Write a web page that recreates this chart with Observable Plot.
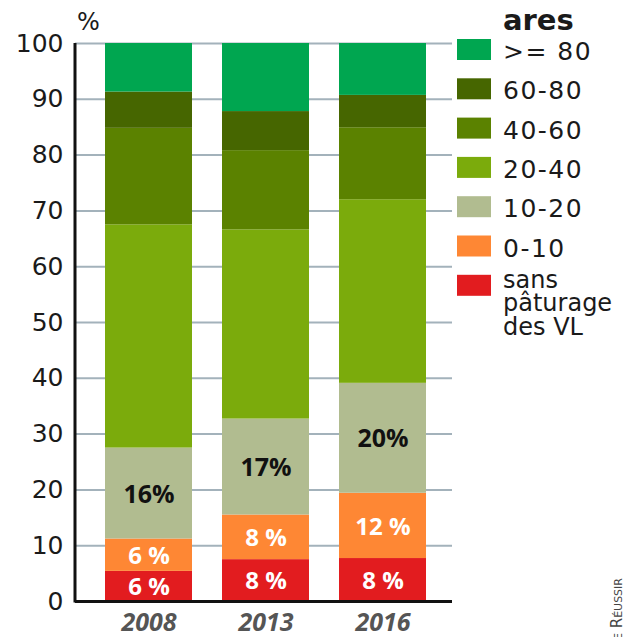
<!DOCTYPE html>
<html>
<head>
<meta charset="utf-8">
<script src="https://cdn.jsdelivr.net/npm/d3@7"></script>
<script src="https://cdn.jsdelivr.net/npm/@observablehq/plot@0.6"></script>
<style>
  html, body { margin: 0; padding: 0; background: #fff; }
  #wrap { position: relative; width: 623px; height: 637px; overflow: hidden; background: #fff; }
  #wrap svg { display: block; }
  #overlay { position: absolute; left: 0; top: 0; pointer-events: none; }
  #chart g[aria-label="x-axis tick label"] text { font: italic bold 25px "Open Sans", sans-serif; fill: #555; }
  #chart g[aria-label="y-axis tick label"] text { font: 25px "DejaVu Sans", sans-serif; fill: #1a1a1a; }
</style>
</head>
<body>
<div id="wrap"><div id="chart"></div></div>
<script>
// ---- data ----
const years = ["2008", "2013", "2016"];
const categories = ["sans pâturage des VL", "0-10", "10-20", "20-40", "40-60", "60-80", ">= 80"];
const sansPaturage = [5.4, 7.5, 7.7];
const ares0_10 = [5.8, 8.0, 11.7];
const ares10_20 = [16.3, 17.2, 19.7];
const ares20_40 = [40.0, 33.9, 32.9];
const ares40_60 = [17.3, 14.2, 12.9];
const ares60_80 = [6.5, 7.0, 5.8];
const ares80plus = [8.7, 12.2, 9.3];
const sansLabels = ["6 %", "8 %", "8 %"];
const ares0_10Labels = ["6 %", "8 %", "12 %"];
const ares10_20Labels = ["16%", "17%", "20%"];
const yTicks = [0, 10, 20, 30, 40, 50, 60, 70, 80, 90, 100];
const colors = ["#e21c1f", "#fe8734", "#b1bc90", "#7bab0c", "#5b8200", "#466600", "#00a650"];
const legendOrder = [">= 80", "60-80", "40-60", "20-40", "10-20", "0-10", "sans pâturage des VL"];
const legendLines = {"sans pâturage des VL": ["sans", "pâturage", "des VL"]};

const series = [sansPaturage, ares0_10, ares10_20, ares20_40, ares40_60, ares60_80, ares80plus];
const whiteLabels = {0: sansLabels, 1: ares0_10Labels};
const darkLabels = {2: ares10_20Labels};
const table = [];
categories.forEach((c, ci) => {
  years.forEach((y, yi) => {
    table.push({
      year: y, cat: c, value: series[ci][yi],
      white: whiteLabels[ci] ? whiteLabels[ci][yi] : "",
      dark: darkLabels[ci] ? darkLabels[ci][yi] : ""
    });
  });
});

const W = 623, H = 637;
const plot = Plot.plot({
  width: W, height: H,
  marginTop: 43, marginBottom: 36, marginLeft: 75, marginRight: 171,
  x: {domain: years, range: [90, 441], paddingInner: 0.2564, paddingOuter: 0.128, align: 0.5, label: null},
  y: {domain: [0, 100], label: null},
  color: {domain: categories, range: colors},
  style: {fontFamily: "DejaVu Sans", background: "#fff"},
  marks: [
    Plot.gridY(yTicks.filter(t => t > 0), {stroke: "#a3b2bb", strokeOpacity: 1, strokeWidth: 2}),
    Plot.barY(table, {x: "year", y: "value", fill: "cat", order: null}),
    Plot.text(table, Plot.stackY({x: "year", y: "value", z: "cat", order: null, text: "white",
      fill: "white", fontFamily: "Open Sans", fontWeight: "bold", fontSize: 24, dy: 1})),
    Plot.text(table, Plot.stackY({x: "year", y: "value", z: "cat", order: null, text: "dark",
      fill: "#111", fontFamily: "Open Sans", fontWeight: "bold", fontSize: 25, dy: 1})),
    Plot.ruleY([0], {stroke: "#111", strokeWidth: 3}),
    (index, scales, values, dimensions) => {
      const {marginLeft, marginTop, height, marginBottom} = dimensions;
      return d3.create("svg:line")
        .attr("x1", marginLeft).attr("x2", marginLeft)
        .attr("y1", marginTop).attr("y2", height - marginBottom + 1.5)
        .attr("stroke", "#111").attr("stroke-width", 3).node();
    },
    Plot.axisY(yTicks, {tickSize: 0, tickPadding: 12, label: null, fontSize: 25}),
    Plot.axisX({tickSize: 0, tickPadding: 12, label: null, fontSize: 25, fontStyle: "italic", fontWeight: "bold"})
  ]
});
document.getElementById("chart").appendChild(plot);

// ---- overlay: unit label, legend, credit ----
const ov = d3.select("#wrap").append("svg").attr("id", "overlay")
  .attr("width", W).attr("height", H);
ov.append("text").attr("x", 77).attr("y", 30)
  .attr("font-family", "DejaVu Sans").attr("font-size", 24).attr("fill", "#1a1a1a").text("%");
ov.append("text").attr("x", 503).attr("y", 30)
  .attr("font-family", "DejaVu Sans").attr("font-weight", "bold").attr("font-size", 29)
  .attr("fill", "#1a1a1a").text("ares");
const colorOf = c => colors[categories.indexOf(c)];
legendOrder.forEach((c, i) => {
  const top = 39 + i * 39.3;
  ov.append("rect").attr("x", 457).attr("y", top).attr("width", 34).attr("height", 21)
    .attr("fill", colorOf(c));
  const lines = legendLines[c] || [c];
  const t = ov.append("text").attr("font-family", "DejaVu Sans").attr("font-size", lines.length > 1 ? 24 : 25)
    .attr("letter-spacing", lines.length > 1 ? 0 : 1.5).attr("fill", "#1a1a1a");
  lines.forEach((l, li) => {
    t.append("tspan").attr("x", 503)
      .attr("y", lines.length > 1 ? top + 13 + li * 23.5 : top + 21).text(l);
  });
});
ov.append("text").attr("transform", "translate(622,640) rotate(-90)")
  .attr("font-family", "DejaVu Sans").attr("font-size", 15).attr("font-variant", "small-caps")
  .attr("fill", "#444").text("e Réussir");
</script>
</body>
</html>
